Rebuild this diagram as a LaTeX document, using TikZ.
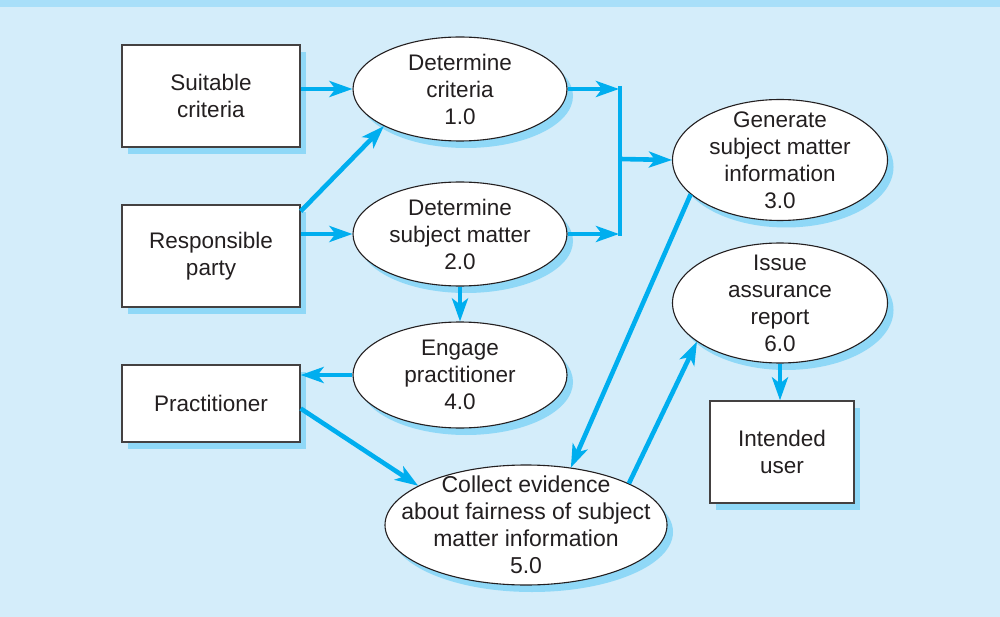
\documentclass[tikz,border=0pt]{standalone}
\usepackage{fontspec}
\setmainfont{Liberation Sans}
\usetikzlibrary{shapes.geometric,arrows.meta,shadows,calc}
\definecolor{bgblue}{HTML}{D4EDFA}
\definecolor{stripblue}{HTML}{A8DFF9}
\definecolor{arrowblue}{HTML}{00AEEF}
\definecolor{shadowblue}{HTML}{8FD8F7}
\definecolor{inkgrey}{HTML}{231F20}
\tikzset{
  shad/.style={drop shadow={shadow xshift=6pt, shadow yshift=-7pt, fill=shadowblue, opacity=1}},
  boxnode/.style={draw=inkgrey!85, line width=1.3pt, fill=white, shad, rectangle, align=center,
    text=inkgrey, font=\fontsize{22.5}{27}\selectfont, inner sep=0pt},
  procnode/.style={draw=inkgrey, line width=1.1pt, fill=white, shad, ellipse, inner sep=0pt},
  proctext/.style={align=center, text=inkgrey, font=\fontsize{22.5}{27}\selectfont, inner sep=0pt},
  flow/.style={draw=arrowblue, line width=4.6pt, -{Stealth[length=23pt, width=16pt, inset=6pt]}},
  bar/.style={draw=arrowblue, line width=4.6pt}
}
\begin{document}
\begin{tikzpicture}[x=1pt, y=-1pt]
\useasboundingbox (0,0) rectangle (1000,617);
\fill[bgblue] (0,0) rectangle (1000,617);
\fill[stripblue] (0,0) rectangle (1000,7);

% boxes
\node[boxnode, minimum width=178pt, minimum height=102pt] (sc) at (211,96) {Suitable\\criteria};
\node[boxnode, minimum width=178pt, minimum height=102pt] (rp) at (211,256) {Responsible\\party};
\node[boxnode, minimum width=178pt, minimum height=77pt] (pr) at (211,403.5) {Practitioner};
\node[boxnode, minimum width=144pt, minimum height=102pt] (iu) at (782,452) {Intended\\user};

% processes
\node[procnode, minimum width=214pt, minimum height=104pt] (c1) at (460,89) {};
\node[proctext] at (c1) {Determine\\criteria\\1.0};
\node[procnode, minimum width=214pt, minimum height=104pt] (c2) at (460,234) {};
\node[proctext] at (c2) {Determine\\subject matter\\2.0};
\node[procnode, minimum width=214pt, minimum height=106pt] (c4) at (460,375) {};
\node[proctext] at (c4) {Engage\\practitioner\\4.0};
\node[procnode, minimum width=215pt, minimum height=121pt] (c3) at (780,160) {};
\node[proctext] at (c3) {Generate\\subject matter\\information\\3.0};
\node[procnode, minimum width=215pt, minimum height=120pt] (c6) at (780,303) {};
\node[proctext] at (c6) {Issue\\assurance\\report\\6.0};
\node[procnode, minimum width=282pt, minimum height=120pt] (c5) at (526,525) {};
\node[proctext, font=\fontsize{23}{27}\selectfont] at (c5) {Collect evidence\\about fairness of subject\\matter information\\5.0};

\coordinate (j) at (620,159);

% connectors
\draw[flow] (sc.east |- c1.west) -- (c1.west);
\draw[flow] (rp.east |- c2.west) -- (c2.west);
\draw[flow] ($(rp.north east)+(0,7)$) -- (c1.206.9);
\draw[flow] (c1.east) -- ($(c1.east -| j)+(-1,0)$);
\draw[flow] (c2.east) -- ($(c2.east -| j)+(-1,0)$);
\draw[bar] ($(j |- c1.east)+(0,-3)$) -- ($(j |- c2.east)+(0,2)$);
\draw[flow] (j) -- (c3.west);
\draw[flow] (c2.south) -- (c4.north);
\draw[flow] (c4.west) -- (c4.west -| pr.east);
\draw[flow] ($(pr.east)+(0,5)$) -- (c5.160.2);
\draw[flow] (c3.201.9) -- (c5.52.8);
\draw[flow] (c5.22.9) -- (c6.205.7);
\draw[flow] (c6.south) -- (c6.south |- iu.north);
\end{tikzpicture}
\end{document}
